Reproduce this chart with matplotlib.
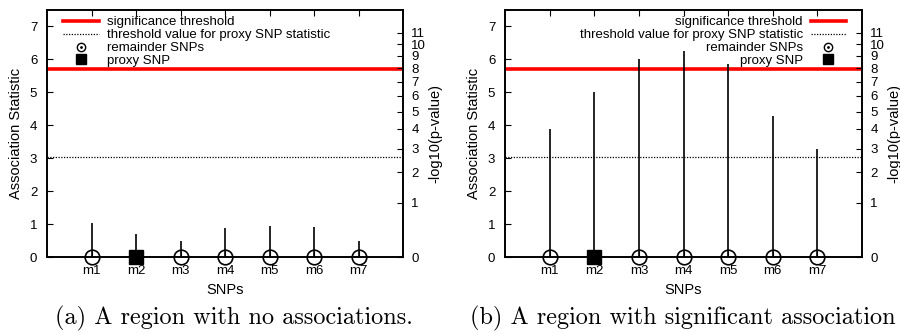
import math
import numpy as np
import matplotlib
matplotlib.use("Agg")
import matplotlib.pyplot as plt
from matplotlib.lines import Line2D

plt.rcParams["font.family"] = ["Liberation Sans", "DejaVu Sans"]

# data
snps = ["m1", "m2", "m3", "m4", "m5", "m6", "m7"]
proxy_snp = "m2"
stat_no_assoc = [1.02, 0.69, 0.49, 0.88, 0.95, 0.91, 0.49]
stat_signif = [3.88, 5.00, 6.00, 6.25, 5.87, 4.27, 3.29]
significance_threshold = 5.72
proxy_threshold = 3.05
pvalue_ticks = list(range(0, 12))
captions = ["(a) A region with no associations.",
            "(b) A region with significant association"]


def z_for_log10p(k):
    """Two-sided z score whose p-value is 10^-k (bisection on erfc)."""
    if k == 0:
        return 0.0
    lo, hi = 0.0, 12.0
    target = 10.0 ** (-k)
    for _ in range(100):
        mid = 0.5 * (lo + hi)
        if math.erfc(mid / math.sqrt(2)) > target:
            lo = mid
        else:
            hi = mid
    return 0.5 * (lo + hi)


def draw_panel(ax, values, legend_left):
    x = np.arange(1, len(snps) + 1)
    ax.vlines(x, 0, values, color="black", lw=1.2, zorder=3)
    ax.axhline(significance_threshold, color="red", lw=2.6, zorder=2)
    ax.axhline(proxy_threshold, color="black", lw=0.9, ls=(0, (1, 1.2)), zorder=2)

    is_proxy = np.array([s == proxy_snp for s in snps])
    ax.plot(x[~is_proxy], np.zeros((~is_proxy).sum()), "o", ms=10.5, mfc="none",
            mec="black", mew=1.2, clip_on=False, zorder=4)
    ax.plot(x[is_proxy], np.zeros(is_proxy.sum()), "s", ms=10.5, color="black",
            clip_on=False, zorder=4)

    ax.set_xlim(0, len(snps) + 1)
    ax.set_ylim(0, 7.5)
    ax.set_xticks(x)
    ax.set_xticklabels(snps)
    ax.set_yticks(range(0, 8))
    ax.set_xlabel("SNPs", fontsize=10.5, labelpad=4)
    ax.set_ylabel("Association Statistic", fontsize=10.5, labelpad=5)
    ax.tick_params(direction="in", length=4, width=0.8, labelsize=9.5,
                   top=True, right=False)
    ax.tick_params(axis="y", pad=7)
    ax.tick_params(axis="x", pad=6)
    for sp in ax.spines.values():
        sp.set_linewidth(1.2)

    # right axis: same statistic, labelled as -log10(p-value)
    ax2 = ax.twinx()
    ax2.set_ylim(ax.get_ylim())
    ax2.set_yticks([z_for_log10p(k) for k in pvalue_ticks])
    ax2.set_yticklabels([str(k) for k in pvalue_ticks])
    ax2.tick_params(direction="in", length=4, width=0.8, labelsize=9.5, pad=6)
    ax2.set_ylabel("-log10(p-value)", fontsize=10.5, labelpad=1.5)
    for sp in ax2.spines.values():
        sp.set_linewidth(1.2)

    handles = [
        Line2D([], [], color="red", lw=2.6),
        Line2D([], [], color="black", lw=0.9, ls=(0, (1, 1.2))),
        (Line2D([], [], ls="none", marker="o", ms=6, mfc="none", mec="black", mew=1),
         Line2D([], [], ls="none", marker=".", ms=2, color="black")),
        Line2D([], [], ls="none", marker="s", ms=7.5, color="black"),
    ]
    labels = ["significance threshold", "threshold value for proxy SNP statistic",
              "remainder SNPs", "proxy SNP"]
    opts = dict(frameon=False, fontsize=9.5, handlelength=2.7, handletextpad=0.6,
                labelspacing=0.05, borderpad=0, borderaxespad=0)
    if legend_left:
        ax.legend(handles, labels, loc="upper left", bbox_to_anchor=(0.045, 0.975), **opts)
    else:
        ax.legend(handles, labels, loc="upper right", bbox_to_anchor=(0.956, 0.975),
                  markerfirst=False, **opts)


def plot():
    fig = plt.figure(figsize=(9, 3.34), dpi=100)
    ax_a = fig.add_axes([47 / 900, 77 / 334, 356 / 900, 247 / 334])
    ax_b = fig.add_axes([505 / 900, 77 / 334, 357 / 900, 247 / 334])
    draw_panel(ax_a, stat_no_assoc, legend_left=True)
    draw_panel(ax_b, stat_signif, legend_left=False)

    fig.text(234 / 900, 1 - 318 / 334, captions[0], ha="center", va="center",
             fontsize=17.5, family="cmr10")
    fig.text(470 / 900, 1 - 318 / 334, captions[1], ha="left", va="center",
             fontsize=17.5, family="cmr10")
    fig.savefig("out.png", dpi=100)
    plt.close(fig)


if __name__ == "__main__":
    plot()
